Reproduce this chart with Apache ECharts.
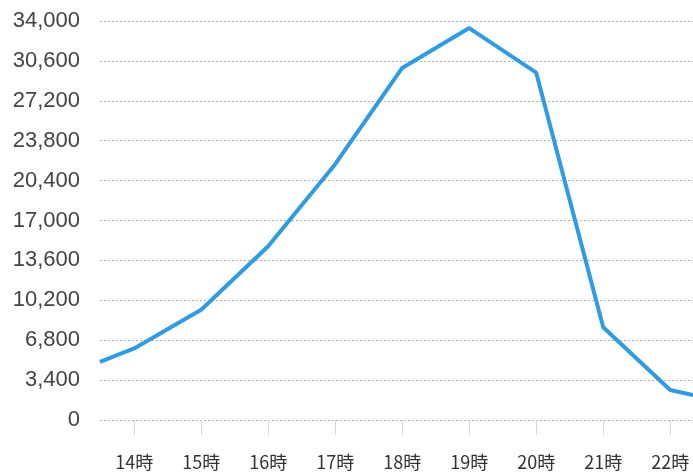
<!DOCTYPE html>
<html>
<head>
<meta charset="utf-8">
<script src="https://cdn.jsdelivr.net/npm/echarts@6/dist/echarts.min.js"></script>
<style>
	html, body { margin: 0; padding: 0; background: #fff; }
	#chart { width: 693px; height: 474px; }
</style>
</head>
<body>
<div id="chart"></div>
<script>
// hours shown on the x axis
var hours = [14, 15, 16, 17, 18, 19, 20, 21, 22];
// line points: [hour, value] (first and last are where the line leaves the plot)
var lineHours = [13.49, 14, 15, 16, 17, 18, 19, 20, 21, 22, 22.34];
var lineValues = [4950, 6100, 9400, 14800, 21800, 30000, 33400, 29600, 7900, 2550, 2130];
// y ticks
var yTicks = [0, 3400, 6800, 10200, 13600, 17000, 20400, 23800, 27200, 30600, 34000];

var chart = echarts.init(document.getElementById("chart"));

var points = [];
for (var i = 0; i < lineHours.length; i++) {
	points.push([lineHours[i], lineValues[i]]);
}

var option = {
	animation: false,
	grid: {
		left: 100,
		right: 0,
		top: 21,
		bottom: 54
	},
	xAxis: {
		type: 'value',
		min: 13.49,
		max: 22.34,
		axisLine: { show: false },
		splitLine: { show: false },
		axisTick: {
			show: true,
			length: 15,
			customValues: hours,
			lineStyle: { color: '#d8d8d8', width: 1 }
		},
		axisLabel: {
			customValues: hours,
			margin: 33,
			fontSize: 18,
			color: '#333',
			fontFamily: '"Liberation Sans Narrow", "Noto Sans CJK JP"',
			formatter: function (v) {
				return v + '時';
			}
		}
	},
	yAxis: {
		type: 'value',
		min: yTicks[0],
		max: yTicks[yTicks.length - 1],
		interval: 3400,
		axisLine: { show: false },
		axisTick: { show: false },
		axisLabel: {
			margin: 20,
			fontSize: 22,
			color: '#444',
			fontFamily: 'Liberation Sans',
			formatter: function (v) {
				return v.toLocaleString('en-US');
			}
		},
		splitLine: {
			show: true,
			lineStyle: { color: '#b0b0b0', type: [2, 2], width: 1 }
		}
	},
	series: [
		{
			type: 'line',
			data: points,
			showSymbol: false,
			smooth: false,
			lineStyle: { color: '#2f9be3', width: 4 },
			clip: true
		}
	]
};

chart.setOption(option);
</script>
</body>
</html>
